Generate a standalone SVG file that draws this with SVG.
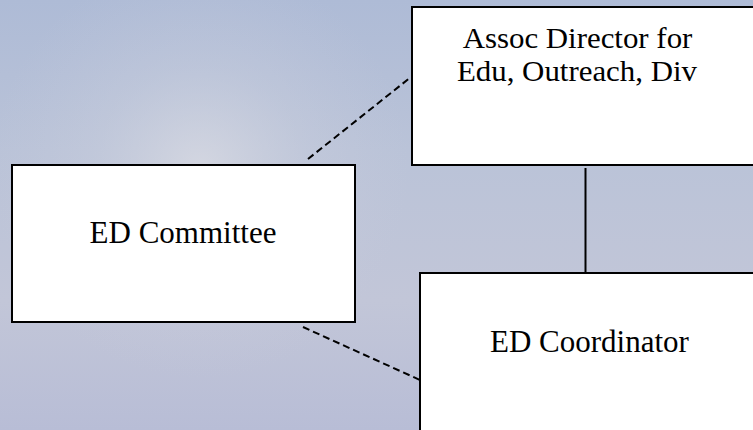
<svg xmlns="http://www.w3.org/2000/svg" width="753" height="430" viewBox="0 0 753 430">
  <defs>
    <linearGradient id="bg" x1="0" y1="0" x2="0" y2="1">
      <stop offset="0" stop-color="#aebbd6"/>
      <stop offset="0.35" stop-color="#bac3d8"/>
      <stop offset="0.7" stop-color="#c2c6d8"/>
      <stop offset="1" stop-color="#b8bdd6"/>
    </linearGradient>
    <radialGradient id="glow" cx="200" cy="170" r="210" gradientUnits="userSpaceOnUse">
      <stop offset="0" stop-color="#dcdde4" stop-opacity="0.75"/>
      <stop offset="0.5" stop-color="#d0d3df" stop-opacity="0.3"/>
      <stop offset="1" stop-color="#c8cbdc" stop-opacity="0"/>
    </radialGradient>
    <style>
      .box { fill: #ffffff; stroke: #000000; stroke-width: 2; }
      .lbl { font-family: "Liberation Serif", "Times New Roman", serif; font-size: 31px; fill: #000000; text-anchor: middle; }
      .lbl2 { font-family: "Liberation Serif", "Times New Roman", serif; font-size: 29px; fill: #000000; text-anchor: middle; }
      .dash { stroke: #000000; stroke-width: 2; stroke-dasharray: 7 4; fill: none; }
      .solid { stroke: #000000; stroke-width: 2; fill: none; }
    </style>
  </defs>
  <rect x="0" y="0" width="753" height="430" fill="url(#bg)"/>
  <rect x="0" y="0" width="753" height="430" fill="url(#glow)"/>
  <g id="connectors">
    <line class="dash" x1="308" y1="159" x2="411" y2="77"/>
    <line class="dash" x1="303" y1="327" x2="420" y2="380"/>
    <line class="solid" x1="585.5" y1="168" x2="585.5" y2="273"/>
  </g>
  <g id="assoc-director">
    <rect class="box" x="412" y="7" width="350" height="158"/>
    <g transform="translate(577.5,0) scale(1.065,1)">
      <text class="lbl2" x="0" y="48">Assoc Director for</text>
      <text class="lbl2" x="-0.5" y="81">Edu, Outreach, Div</text>
    </g>
  </g>
  <g id="ed-committee">
    <rect class="box" x="12" y="165" width="343" height="157"/>
    <text class="lbl" x="183" y="243">ED Committee</text>
  </g>
  <g id="ed-coordinator">
    <rect class="box" x="420" y="273" width="345" height="170"/>
    <text class="lbl" x="589.5" y="351.5">ED Coordinator</text>
  </g>
</svg>
